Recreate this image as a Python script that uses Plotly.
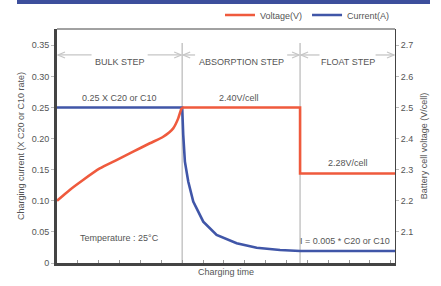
import plotly.graph_objects as go

# ---------------- data ----------------
# charging time in arbitrary units (axis has ticks, no labels)
phase_names = ["BULK STEP", "ABSORPTION STEP", "FLOAT STEP"]
phase_edges = [0.0, 6.0, 11.65, 16.2]

# voltage during bulk step (smooth rise)
volt_bulk_time = [0.0, 0.61, 1.25, 2.05, 2.85, 3.65, 4.45, 5.09, 5.57, 5.81, 5.94, 6.0]
volt_bulk_vals = [2.20, 2.235, 2.267, 2.304, 2.331, 2.358, 2.385, 2.406, 2.433, 2.465, 2.492,
                  2.50]
# voltage during absorption and float steps (step shape)
volt_step_time = [6.0, 11.65, 11.65, 16.2]
volt_step_vals = [2.50, 2.50, 2.288, 2.288]

curr_time = [0.0, 6.0, 6.05, 6.13, 6.29, 6.53, 7.01, 7.65, 8.61, 9.57, 10.69, 11.65, 16.2]
curr_vals = [0.25, 0.25, 0.206, 0.163, 0.131, 0.0986, 0.0664, 0.045, 0.0317, 0.0246, 0.0209,
             0.0193, 0.0193]

left_tickvals = [0, 0.05, 0.10, 0.15, 0.20, 0.25, 0.30, 0.35]
left_ticktext = ["0", "0.05", "0.10", "0.15", "0.20", "0.25", "0.30", "0.35"]
right_tickvals = [2.1, 2.2, 2.3, 2.4, 2.5, 2.6, 2.7]
right_ticktext = ["2.1", "2.2", "2.3", "2.4", "2.5", "2.6", "2.7"]

annot_texts = ["0.25 X C20 or C10", "2.40V/cell", "2.28V/cell",
               "Temperature : 25°C", "I = 0.005 * C20 or C10"]

# ---------------- style ----------------
FONT = "Liberation Sans Narrow, Liberation Sans, Arial, sans-serif"
FS = 9
TXT = "#555555"
RED = "#ef5a3d"
BLUE = "#4056a8"
GREY = "#c6c6c6"
AX = "#444444"

W, H = 441, 286
ML, MR, MT, MB = 57, 46, 29, 23
plot_w = W - ML - MR
plot_h = H - MT - MB
x_max = phase_edges[-1]
px_per_unit = plot_w / x_max
y_top_left = 0.3762
y_rng2 = [2.0, 2.0 + 2 * y_top_left]

fig = go.Figure()
fig.add_trace(go.Scatter(x=volt_bulk_time, y=volt_bulk_vals, mode="lines", name="Voltage(V)",
                         legendgroup="v",
                         line=dict(color=RED, width=2.6, shape="spline", smoothing=0.6),
                         yaxis="y2"))
fig.add_trace(go.Scatter(x=volt_step_time, y=volt_step_vals, mode="lines", name="Voltage(V)",
                         legendgroup="v", showlegend=False,
                         line=dict(color=RED, width=2.6), yaxis="y2"))
fig.add_trace(go.Scatter(x=curr_time, y=curr_vals, mode="lines", name="Current(A)",
                         line=dict(color=BLUE, width=2.6), yaxis="y"))

shapes = []
# top dark band
shapes.append(dict(type="rect", xref="paper", yref="paper",
                   x0=(17 - ML) / plot_w, x1=(430 - ML) / plot_w,
                   y0=1 + (MT - 4) / plot_h, y1=1 + MT / plot_h,
                   fillcolor="#3d4f9c", line=dict(width=0), layer="above"))
# top border
shapes.append(dict(type="line", xref="paper", yref="paper", x0=0, x1=1, y0=1, y1=1,
                   line=dict(color=AX, width=1)))
# phase boundary vertical lines
for xb in phase_edges[1:-1]:
    shapes.append(dict(type="line", xref="x", yref="paper", x0=xb, x1=xb, y0=0, y1=0.94,
                       line=dict(color=GREY, width=1.5), layer="below"))

arrow_y = 0.889
half_px = [22, 40, 22]
annotations = []
for i, name in enumerate(phase_names):
    a, b = phase_edges[i], phase_edges[i + 1]
    c = (a + b) / 2
    hw = (half_px[i] + 5) / px_per_unit
    for x0, x1 in [(a, c - hw), (c + hw, b)]:
        shapes.append(dict(type="line", xref="x", yref="paper", x0=x0 + 0.05, x1=x1 - 0.05,
                           y0=arrow_y, y1=arrow_y, line=dict(color=GREY, width=1.3)))
    shapes.append(dict(type="path", xref="x", yref="paper", xsizemode="pixel",
                       ysizemode="pixel", xanchor=a, yanchor=arrow_y,
                       path="M 8,3 L 1,0 L 8,-3", line=dict(color=GREY, width=1.3)))
    shapes.append(dict(type="path", xref="x", yref="paper", xsizemode="pixel",
                       ysizemode="pixel", xanchor=b, yanchor=arrow_y,
                       path="M -8,3 L -1,0 L -8,-3", line=dict(color=GREY, width=1.3)))
    annotations.append(dict(x=c, y=arrow_y, xref="x", yref="paper", text=name,
                            showarrow=False, font=dict(family=FONT, size=FS, color=TXT)))

af = dict(family=FONT, size=FS, color=TXT)
annotations.append(dict(x=(phase_edges[0] + phase_edges[1]) / 2, y=0.25, xref="x", yref="y",
                        text=annot_texts[0], showarrow=False, yshift=10, font=af))
annotations.append(dict(x=(phase_edges[1] + phase_edges[2]) / 2 - 0.1, y=2.50, xref="x",
                        yref="y2", text=annot_texts[1], showarrow=False, yshift=10, font=af))
annotations.append(dict(x=(phase_edges[2] + phase_edges[3]) / 2, y=2.288, xref="x", yref="y2",
                        text=annot_texts[2], showarrow=False, yshift=10, font=af))
annotations.append(dict(x=(phase_edges[0] + phase_edges[1]) / 2, y=0.04, xref="x", yref="y",
                        text=annot_texts[3], showarrow=False, font=af))
annotations.append(dict(x=(phase_edges[2] + phase_edges[3]) / 2 - 0.1, y=0.0193, xref="x",
                        yref="y", text=annot_texts[4], showarrow=False, yshift=10, font=af))

fig.update_layout(
    width=W, height=H,
    margin=dict(l=ML, r=MR, t=MT, b=MB, autoexpand=False),
    paper_bgcolor="white", plot_bgcolor="white",
    font=dict(family=FONT, size=FS, color=TXT),
    showlegend=True,
    legend=dict(orientation="h", x=1.0, xanchor="right", y=1 + (MT - 15) / plot_h,
                yanchor="middle", font=dict(family=FONT, size=FS, color=TXT),
                bgcolor="rgba(0,0,0,0)", itemwidth=30, tracegroupgap=0),
    xaxis=dict(range=[0, x_max], showgrid=False, zeroline=False, showline=True,
               linecolor=AX, linewidth=3, ticks="inside", ticklen=3, tickcolor="#999",
               dtick=1, tick0=0, showticklabels=False, automargin=False,
               title=dict(text="Charging time", standoff=4, font=dict(size=FS, color=TXT))),
    yaxis=dict(range=[0, y_top_left], showgrid=False, zeroline=False, showline=True,
               linecolor=AX, linewidth=3, ticks="outside", ticklen=3, tickcolor="#bbb",
               tickvals=left_tickvals, ticktext=left_ticktext, automargin=False,
               tickfont=dict(size=FS, color=TXT),
               title=dict(text="Charging current (X C20 or C10 rate)", standoff=6,
                          font=dict(size=FS, color=TXT))),
    yaxis2=dict(range=y_rng2, overlaying="y", side="right", showgrid=False, zeroline=False,
                showline=True, linecolor=AX, linewidth=1, ticks="outside", ticklen=3,
                tickcolor="#bbb", tickvals=right_tickvals, ticktext=right_ticktext,
                tickfont=dict(size=FS, color=TXT), automargin=False,
                title=dict(text="Battery cell voltage (V/cell)", standoff=8,
                           font=dict(size=FS, color=TXT))),
    shapes=shapes,
    annotations=annotations,
)

fig.write_html("out.html", config={"displayModeBar": False},
               post_script="document.body.style.margin='0';document.body.style.padding='0';")
